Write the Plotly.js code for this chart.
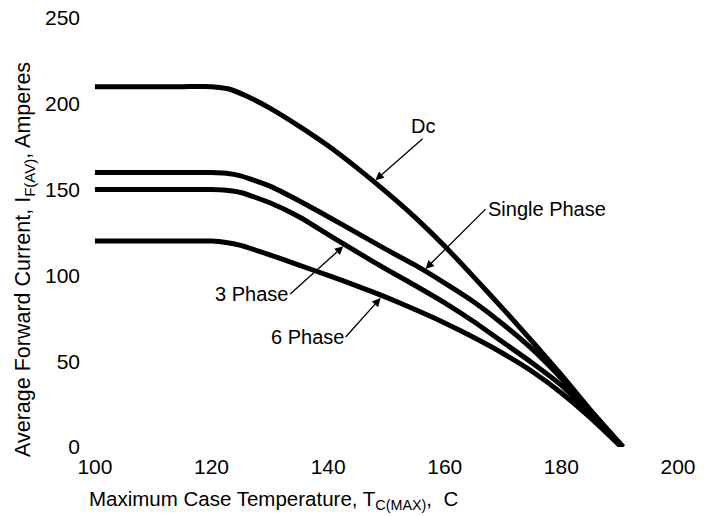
<!DOCTYPE html>
<html>
<head>
<meta charset="utf-8">
<script src="https://cdn.plot.ly/plotly-3.0.1.min.js"></script>
<style>html,body{margin:0;padding:0;background:#fff;}#chart{width:707px;height:516px;}</style>
</head>
<body>
<div id="chart"></div>
<script>
// Data (x: case temperature, y: forward current)
const dcX = [100, 110, 115, 120, 123, 126, 130, 135, 140, 145, 150, 155, 160, 165, 170, 175, 180, 185, 190.6];
const dcY = [210, 210, 210, 210, 208.6, 204.5, 197.5, 187, 175.5, 162.5, 148.5, 133.5, 117, 99, 80.5, 61.5, 42, 21.5, 0];

const singleX = [100, 110, 115, 120, 122.5, 125, 130, 135, 140, 145, 150, 155, 160, 165, 170, 175, 180, 185, 190.5];
const singleY = [160, 160, 160, 160, 159.5, 158, 152, 143.5, 134.2, 124.6, 115, 105.8, 95.5, 84.5, 71.5, 57, 40, 21, 0];

const threeX = [100, 110, 115, 120, 122.5, 125, 130, 135, 140, 145, 150, 155, 160, 165, 170, 175, 180, 185, 190.3];
const threeY = [150, 150, 150, 150, 149.6, 148.3, 142.3, 134.2, 123.8, 113.5, 103.5, 94, 84, 73, 61, 49, 36, 19, 0];

const sixX = [100, 110, 115, 120, 122.5, 125, 130, 135, 140, 145, 150, 155, 160, 165, 170, 175, 180, 185, 190.3];
const sixY = [120, 120, 120, 120, 119.2, 117.5, 112, 106, 100, 93.8, 87.2, 80, 72.3, 63.8, 54.5, 44, 31.5, 17, 0];

const xTicks = [100, 120, 140, 160, 180, 200];
const yTicks = [0, 50, 100, 150, 200, 250];

// Curve labels: text, text anchor position (arrow tail), arrow head on the curve
const labelText = ['Dc', 'Single Phase', '3 Phase', '6 Phase'];
const labelX = [156.2, 167.0, 133.5, 143.0];
const labelY = [179.6, 138.6, 89.2, 64.1];
const labelXAnchor = ['center', 'left', 'right', 'right'];
const labelYAnchor = ['bottom', 'middle', 'middle', 'middle'];
const headX = [148.1, 156.7, 142.6, 149.0];
const headY = [155.5, 103.8, 117.0, 86.8];

const FONT = 'Liberation Sans, Arial, Helvetica, sans-serif';

function curve(x, y, name) {
  return {
    x: x, y: y, name: name, type: 'scatter', mode: 'lines',
    line: {color: '#000', width: 5, shape: 'spline', smoothing: 0.55},
    cliponaxis: false, hoverinfo: 'x+y+name'
  };
}

const traces = [
  curve(dcX, dcY, 'Dc'),
  curve(singleX, singleY, 'Single Phase'),
  curve(threeX, threeY, '3 Phase'),
  curve(sixX, sixY, '6 Phase')
];

const annotations = [];
for (let i = 0; i < labelText.length; i++) {
  annotations.push({
    x: headX[i], y: headY[i], xref: 'x', yref: 'y',
    ax: labelX[i], ay: labelY[i], axref: 'x', ayref: 'y',
    xanchor: labelXAnchor[i], yanchor: labelYAnchor[i],
    text: labelText[i], showarrow: true,
    font: {family: FONT, size: 20, color: '#000'},
    arrowhead: 2, arrowsize: 1.3, arrowwidth: 1.3, arrowcolor: '#000', standoff: 0
  });
}
// Axis titles
annotations.push({
  xref: 'paper', yref: 'paper', x: -0.0085, y: -0.1235,
  xanchor: 'left', yanchor: 'middle', showarrow: false,
  text: 'Maximum Case Temperature, T<sub>C(MAX)</sub>,  C',
  font: {family: FONT, size: 20.5, color: '#000'}
});
annotations.push({
  xref: 'paper', yref: 'paper', x: -0.1143, y: 0.436,
  xanchor: 'center', yanchor: 'middle', showarrow: false, textangle: -90,
  text: 'Average Forward Current, I<sub>F(AV)</sub>, Amperes',
  font: {family: FONT, size: 21.5, color: '#000'}
});

const layout = {
  width: 707, height: 516,
  margin: {l: 92, r: 29, t: 18, b: 69, pad: 0},
  paper_bgcolor: '#fff', plot_bgcolor: '#fff',
  showlegend: false,
  font: {family: FONT, color: '#000'},
  xaxis: {
    range: [99.5, 200], tickmode: 'array', tickvals: xTicks, ticktext: xTicks.map(String),
    showgrid: false, zeroline: false, showline: false, ticks: '',
    tickfont: {family: FONT, size: 21, color: '#000'}, ticklabelstandoff: 5
  },
  yaxis: {
    range: [0, 250], tickmode: 'array', tickvals: yTicks, ticktext: yTicks.map(String),
    showgrid: false, zeroline: false, showline: false, ticks: '',
    tickfont: {family: FONT, size: 21, color: '#000'}, ticklabelstandoff: 11
  },
  annotations: annotations
};

Plotly.newPlot('chart', traces, layout, {displayModeBar: false, staticPlot: true});
</script>
</body>
</html>
